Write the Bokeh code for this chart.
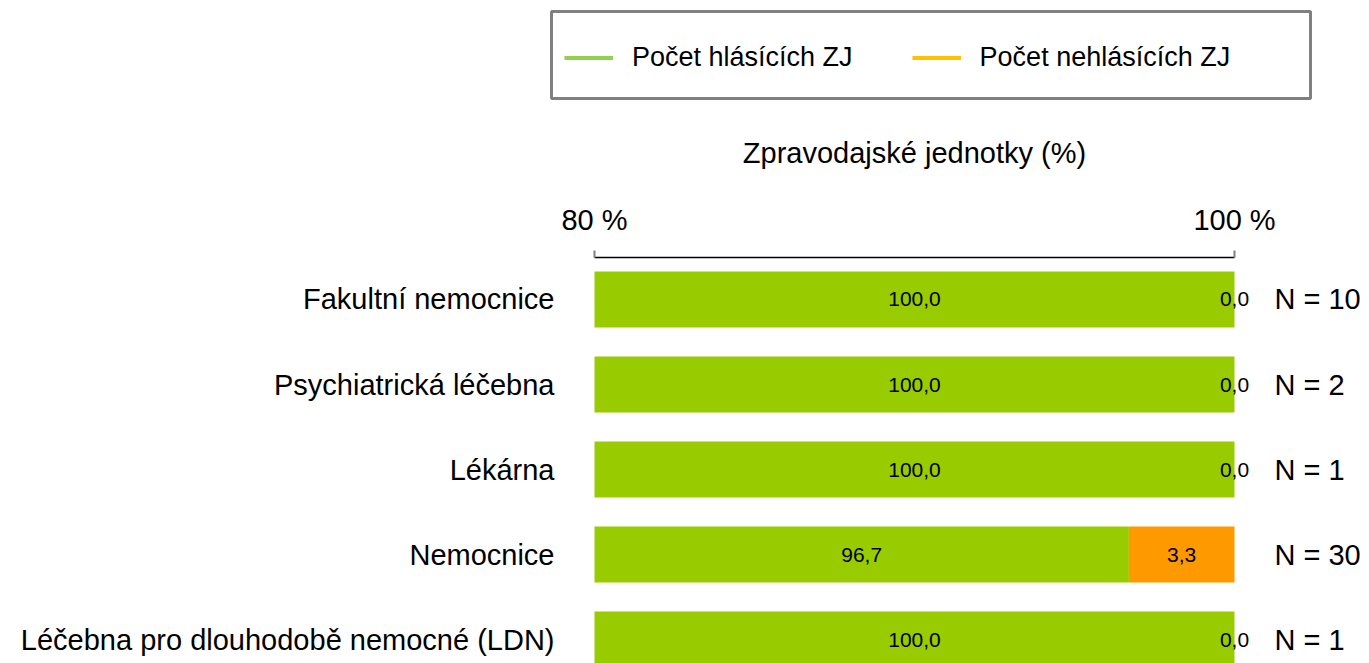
from bokeh.plotting import figure
from bokeh.layouts import column
from bokeh.models import (ColumnDataSource, Range1d, FixedTicker, LinearAxis,
                          Legend, LegendItem, LabelSet)
from bokeh.core.properties import value
from bokeh.embed import file_html
from bokeh.resources import INLINE

# ---- data ----
categories = ["Fakultní nemocnice", "Psychiatrická léčebna", "Lékárna",
              "Nemocnice", "Léčebna pro dlouhodobě nemocné (LDN)"]
hlasici = [100.0, 100.0, 100.0, 96.7, 100.0]
nehlasici = [0.0, 0.0, 0.0, 3.3, 0.0]
n_counts = [10, 2, 1, 30, 1]
x_ticks = [80, 100]
x_tick_labels = ["80 %", "100 %"]
series_names = ["Počet hlásících ZJ", "Počet nehlásících ZJ"]
axis_title = "Zpravodajské jednotky (%)"

X_START, X_END = 80, 100
FONT = "Liberation Sans"
W = 1369
LEG_H = 120
MAIN_H = 663 - LEG_H

# ---------------- legend strip ----------------
leg = figure(width=W, height=LEG_H, output_backend="svg", toolbar_location=None,
             x_range=Range1d(0, 1), y_range=Range1d(0, 1),
             x_axis_type=None, y_axis_type=None,
             min_border_left=551, min_border_right=W - 551 - 759,
             min_border_top=11, min_border_bottom=22)
leg.frame_align = False
leg.outline_line_color = "#808080"
leg.outline_line_width = 3
leg.xgrid.visible = False
leg.ygrid.visible = False
l1 = leg.line(x=[-10, -9], y=[-10, -10], line_color="#92D050", line_width=4)
l2 = leg.line(x=[-10, -9], y=[-10, -10], line_color="#FFC000", line_width=4)
legend = Legend(items=[LegendItem(label=series_names[0], renderers=[l1]),
                       LegendItem(label=series_names[1], renderers=[l2])],
                orientation="horizontal", location=(13, 10),
                padding=13, spacing=59, label_standoff=19,
                glyph_width=49, glyph_height=61, label_height=61,
                label_text_font=FONT, label_text_font_size="27px",
                label_text_color="black",
                border_line_color=None, background_fill_alpha=0.0,
                margin=0)
leg.add_layout(legend)

# ---------------- main chart ----------------
idx = list(range(len(categories)))
green_right = hlasici
orange_left = hlasici
orange_right = [a + b for a, b in zip(hlasici, nehlasici)]
src = ColumnDataSource(dict(
    y=idx,
    g_left=[X_START] * len(idx),
    g_right=green_right,
    o_left=orange_left,
    o_right=orange_right,
    g_mid=[(X_START + r) / 2 for r in green_right],
    o_mid=[(l + r) / 2 for l, r in zip(orange_left, orange_right)],
    g_txt=[f"{v:.1f}".replace(".", ",") for v in hlasici],
    o_txt=[f"{v:.1f}".replace(".", ",") for v in nehlasici],
))

PX_PER_UNIT = 32.0
PAD_PX = 16                      # extra room on both sides of 80..100
FRAME_L = 594 - PAD_PX
FRAME_R = 594 + int((X_END - X_START) * PX_PER_UNIT) + PAD_PX
x_view = (X_START - PAD_PX / PX_PER_UNIT, X_END + PAD_PX / PX_PER_UNIT)

p = figure(width=W, height=MAIN_H, output_backend="svg", toolbar_location=None,
           x_range=Range1d(*x_view), y_range=Range1d(4.282, -0.494),
           x_axis_location="above", y_axis_location="left",
           min_border_left=FRAME_L, min_border_right=W - FRAME_R,
           min_border_top=257 - LEG_H, min_border_bottom=0)
p.frame_align = False
p.outline_line_color = None
p.xgrid.visible = False
p.ygrid.visible = False

p.hbar(y="y", left="g_left", right="g_right", height=0.66, source=src,
       fill_color="#99CC00", line_color=None)
p.hbar(y="y", left="o_left", right="o_right", height=0.66, source=src,
       fill_color="#FF9900", line_color=None)

for col_x, col_t in (("g_mid", "g_txt"), ("o_mid", "o_txt")):
    p.add_layout(LabelSet(x=col_x, y="y", text=col_t, source=src,
                          text_align="center", text_baseline="middle",
                          text_font=value(FONT), text_font_size="21px",
                          text_color="black"))

# x axis (top)
xa = p.xaxis[0]
xa.ticker = FixedTicker(ticks=x_ticks)
xa.bounds = (X_START, X_END)
xa.major_label_overrides = {t: l for t, l in zip(x_ticks, x_tick_labels)}
xa.axis_label = axis_title
xa.axis_label_text_font = FONT
xa.axis_label_text_font_size = "29px"
xa.axis_label_text_font_style = "normal"
xa.axis_label_text_color = "black"
xa.axis_label_standoff = 32
xa.major_label_text_font = FONT
xa.major_label_text_font_size = "29px"
xa.major_label_text_color = "black"
xa.major_label_standoff = 15
xa.major_tick_out = 7
xa.major_tick_in = 0
xa.major_tick_line_color = "#808080"
xa.major_tick_line_width = 2
xa.minor_tick_line_color = None
xa.axis_line_color = "black"
xa.axis_line_width = 1.5

# y axis (left, categories)
ya = p.yaxis[0]
ya.ticker = FixedTicker(ticks=idx)
ya.major_label_overrides = {i: c for i, c in zip(idx, categories)}
ya.major_label_text_font = FONT
ya.major_label_text_font_size = "29px"
ya.major_label_text_color = "black"
ya.major_label_standoff = 40 - PAD_PX
ya.major_tick_out = 0
ya.major_tick_in = 0
ya.axis_line_color = None
ya.major_tick_line_color = None
ya.minor_tick_line_color = None

# right axis (N counts)
ra = LinearAxis(ticker=FixedTicker(ticks=idx))
ra.major_label_overrides = {i: f"N = {n}" for i, n in zip(idx, n_counts)}
ra.major_label_text_font = FONT
ra.major_label_text_font_size = "29px"
ra.major_label_text_color = "black"
ra.major_label_standoff = 40 - PAD_PX
ra.major_tick_out = 0
ra.major_tick_in = 0
ra.axis_line_color = None
ra.major_tick_line_color = None
ra.minor_tick_line_color = None
p.add_layout(ra, "right")

layout = column(leg, p, spacing=0)
open("out.html", "w").write(file_html(layout, INLINE))
